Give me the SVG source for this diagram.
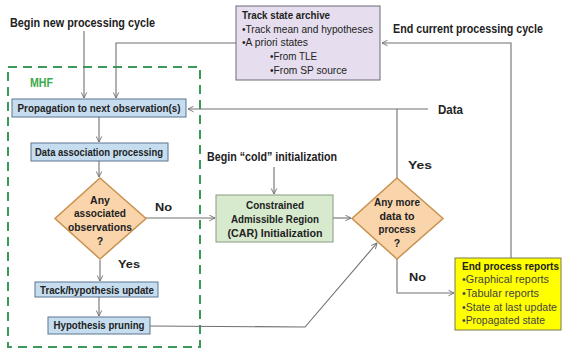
<svg xmlns="http://www.w3.org/2000/svg" width="563" height="350" viewBox="0 0 563 350">
<defs>
<marker id="arr" viewBox="0 0 10 10" refX="9" refY="5" markerWidth="7" markerHeight="7" orient="auto" markerUnits="userSpaceOnUse">
<path d="M1,1 L9,5 L1,9" fill="none" stroke="#707070" stroke-width="1.3"/>
</marker>
<style>
text{font-family:"Liberation Sans",Arial,sans-serif;fill:#222}
.lbl{font-size:12.5px;font-weight:bold}
.bx{font-size:10.5px;font-weight:bold}
.it{font-size:11px}
.blue{fill:#C6DDF0;stroke:#5A7590;stroke-width:1}
.dia{fill:#FAD5AC;stroke:#C8924E;stroke-width:1.5}
.ln{fill:none;stroke:#707070;stroke-width:1.1}
.c{text-anchor:middle}
</style>
</defs>
<rect width="563" height="350" fill="#fff"/>
<rect id="mhf" x="8" y="67" width="192" height="280" fill="none" stroke="#3A9A5A" stroke-width="2" stroke-dasharray="9,6"/>
<text x="30" y="87" class="lbl" style="fill:#3BAA4A" textLength="23" lengthAdjust="spacingAndGlyphs">MHF</text>

<g id="connectors">
<path class="ln" d="M84,31 V98" marker-end="url(#arr)"/>
<path class="ln" d="M236,43 H116 V98" marker-end="url(#arr)"/>
<path class="ln" d="M428,109 H188" marker-end="url(#arr)"/>
<path class="ln" d="M397,109 V178"/>
<path class="ln" d="M99,117 V142" marker-end="url(#arr)"/>
<path class="ln" d="M99,161 V177" marker-end="url(#arr)"/>
<path class="ln" d="M146,218 H215" marker-end="url(#arr)"/>
<path class="ln" d="M274,167 V194" marker-end="url(#arr)"/>
<path class="ln" d="M333,218 H351" marker-end="url(#arr)"/>
<path class="ln" d="M397,259 V293 H454" marker-end="url(#arr)"/>
<path class="ln" d="M511,258 V43 H382" marker-end="url(#arr)"/>
<path class="ln" d="M100,260 V281" marker-end="url(#arr)"/>
<path class="ln" d="M99,297 V316" marker-end="url(#arr)"/>
<path class="ln" d="M150,326 L305,327 L377,243" marker-end="url(#arr)"/>
</g>

<g id="labels">
<text x="10" y="27" class="lbl" textLength="145" lengthAdjust="spacingAndGlyphs">Begin new processing cycle</text>
<text x="393" y="33" class="lbl" textLength="150" lengthAdjust="spacingAndGlyphs">End current processing cycle</text>
<text x="438" y="114" class="lbl" textLength="25" lengthAdjust="spacingAndGlyphs">Data</text>
<text x="207" y="161" class="lbl" textLength="130" lengthAdjust="spacingAndGlyphs">Begin “cold” initialization</text>
<text x="155" y="211" class="bx" textLength="17" lengthAdjust="spacingAndGlyphs">No</text>
<text x="408" y="169" class="bx" textLength="24" lengthAdjust="spacingAndGlyphs">Yes</text>
<text x="409" y="281" class="bx" textLength="17" lengthAdjust="spacingAndGlyphs">No</text>
<text x="118" y="268" class="bx" textLength="22" lengthAdjust="spacingAndGlyphs">Yes</text>
</g>

<g id="archive">
<rect x="236" y="6" width="144" height="74" fill="#E6DEEE" stroke="#6A6A78" stroke-width="1"/>
<text x="242" y="19" class="bx" textLength="88" lengthAdjust="spacingAndGlyphs">Track state archive</text>
<text x="242" y="33" class="it" textLength="131" lengthAdjust="spacingAndGlyphs">•Track mean and hypotheses</text>
<text x="242" y="46" class="it" textLength="66" lengthAdjust="spacingAndGlyphs">•A priori states</text>
<text x="270" y="60" class="it" textLength="47" lengthAdjust="spacingAndGlyphs">•From TLE</text>
<text x="270" y="74" class="it" textLength="77" lengthAdjust="spacingAndGlyphs">•From SP source</text>
</g>

<g id="propagation">
<rect x="12" y="99" width="174" height="18" class="blue"/>
<text x="99" y="112" class="bx c" textLength="163" lengthAdjust="spacingAndGlyphs">Propagation to next observation(s)</text>
</g>

<g id="association">
<rect x="31" y="143" width="137" height="18" class="blue"/>
<text x="99" y="156" class="bx c" textLength="128" lengthAdjust="spacingAndGlyphs">Data association processing</text>
</g>

<g id="anyassoc">
<path d="M100,178 L146,218.5 L100,259 L55,218.5 Z" class="dia"/>
<text x="100" y="204" class="bx c">Any</text>
<text x="100" y="217" class="bx c" textLength="52" lengthAdjust="spacingAndGlyphs">associated</text>
<text x="100" y="231" class="bx c" textLength="64" lengthAdjust="spacingAndGlyphs">observations</text>
<text x="100" y="245" class="bx c">?</text>
</g>

<g id="car">
<rect x="216" y="195" width="117" height="47" fill="#D7EACE" stroke="#8A9A82" stroke-width="1"/>
<text x="275" y="209" class="bx c" textLength="58" lengthAdjust="spacingAndGlyphs">Constrained</text>
<text x="275" y="223" class="bx c" textLength="88" lengthAdjust="spacingAndGlyphs">Admissible Region</text>
<text x="275" y="237" class="bx c" textLength="95" lengthAdjust="spacingAndGlyphs">(CAR) Initialization</text>
</g>

<g id="anymore">
<path d="M397,178 L443,218.5 L397,259 L352,218.5 Z" class="dia"/>
<text x="397" y="206" class="bx c" textLength="46" lengthAdjust="spacingAndGlyphs">Any more</text>
<text x="397" y="220" class="bx c" textLength="35" lengthAdjust="spacingAndGlyphs">data to</text>
<text x="397" y="233" class="bx c" textLength="37" lengthAdjust="spacingAndGlyphs">process</text>
<text x="397" y="247" class="bx c">?</text>
</g>

<g id="update">
<rect x="35" y="282" width="123" height="15" class="blue"/>
<text x="97" y="294" class="bx c" textLength="114" lengthAdjust="spacingAndGlyphs">Track/hypothesis update</text>
</g>

<g id="pruning">
<rect x="48" y="317" width="102" height="17" class="blue"/>
<text x="99" y="329" class="bx c" textLength="91" lengthAdjust="spacingAndGlyphs">Hypothesis pruning</text>
</g>

<g id="reports">
<rect x="455" y="258" width="106" height="72" fill="#FFFF00" stroke="#7A7A50" stroke-width="1"/>
<text x="462" y="270" class="bx" textLength="97" lengthAdjust="spacingAndGlyphs">End process reports</text>
<text x="462" y="283" class="it" style="fill:#444" textLength="87" lengthAdjust="spacingAndGlyphs">•Graphical reports</text>
<text x="462" y="297" class="it" style="fill:#444" textLength="77" lengthAdjust="spacingAndGlyphs">•Tabular reports</text>
<text x="462" y="311" class="it" style="fill:#444" textLength="95" lengthAdjust="spacingAndGlyphs">•State at last update</text>
<text x="462" y="324" class="it" style="fill:#444" textLength="83" lengthAdjust="spacingAndGlyphs">•Propagated state</text>
</g>
</svg>
